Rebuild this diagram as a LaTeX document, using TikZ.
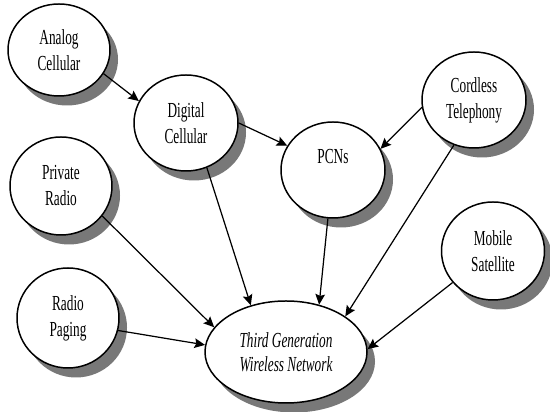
\documentclass[tikz,border=0pt]{standalone}
\usepackage{fontspec}
\setmainfont{Liberation Serif}[FakeStretch=0.62]
\usepackage{tikz}
\usetikzlibrary{shapes.geometric,shadows,arrows.meta}
\definecolor{ShadeGray}{RGB}{120,120,120}
\tikzset{
	tech/.style={ellipse,draw=black,fill=white,line width=0.85pt,inner sep=0pt,
		align=center,font=\fontsize{12.2}{14.8}\selectfont,
		drop shadow={shadow xshift=0.16cm,shadow yshift=-0.19cm,fill=ShadeGray,opacity=1}},
	feed/.style={draw=black,line width=0.7pt,-{Stealth[length=6pt,width=5.5pt,inset=1pt]}},
}

\begin{document}
\begin{tikzpicture}
	\useasboundingbox (0,0) rectangle (11,8.24);
	% sources on the left
	\node[tech,minimum width=2.04cm,minimum height=1.84cm] (analog) at (1.18,7.24) {Analog\\Cellular};
	\node[tech,minimum width=2.08cm,minimum height=1.92cm] (digital) at (3.72,5.78) {Digital\\Cellular};
	\node[tech,minimum width=2.04cm,minimum height=1.96cm] (private) at (1.22,4.52) {Private\\Radio};
	\node[tech,minimum width=2.04cm,minimum height=2.0cm] (paging) at (1.36,1.88) {Radio\\Paging};
	% sources on the right
	\node[tech,minimum width=2.08cm,minimum height=1.92cm,label={[yshift=0.27cm,font=\fontsize{12.2}{14.8}\selectfont]center:PCNs}] (pcn) at (6.66,4.84) {};
	\node[tech,minimum width=2.08cm,minimum height=1.92cm] (cordless) at (9.48,6.24) {Cordless\\Telephony};
	\node[tech,minimum width=2.06cm,minimum height=1.96cm] (mobile) at (9.86,3.22) {Mobile\\Satellite};
	% target
	\node[tech,minimum width=3.24cm,minimum height=2.04cm,font=\fontsize{12.2}{13.5}\selectfont\itshape] (third) at (5.72,1.2) {Third Generation\\Wireless Network};
	% evolution paths
	\draw[feed] (analog.-28) -- (digital.155);
	\draw[feed] (digital.0) -- (pcn.152);
	\draw[feed] (digital.-65) -- (third.127);
	\draw[feed] (cordless.-172) -- (pcn.24);
	\draw[feed] (cordless.-114) -- (third.31);
	\draw[feed] (pcn.-96) -- (third.55);
	\draw[feed] (private.-36) -- (third.161);
	\draw[feed] (paging.-14) -- (third.175);
	\draw[feed] (mobile.-142) -- (third.2);
\end{tikzpicture}
\end{document}
